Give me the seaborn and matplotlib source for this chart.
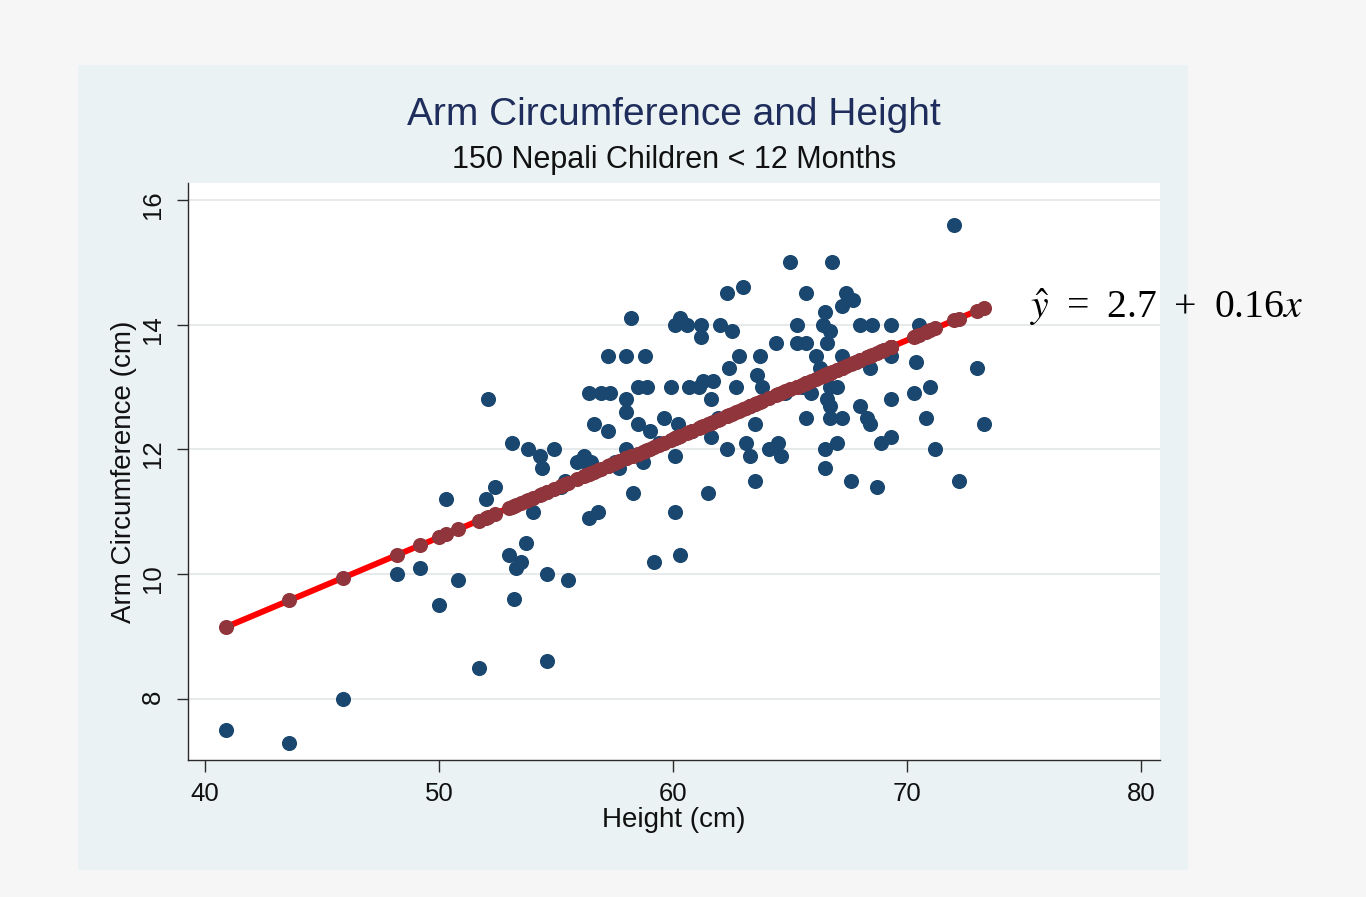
import matplotlib
matplotlib.use("Agg")
import matplotlib.pyplot as plt
from matplotlib.patches import Rectangle
import pandas as pd
import seaborn as sns

# Height (cm) and arm circumference (cm) of 150 Nepali children under 12 months
height_cm = [
    40.9, 43.6, 45.9, 48.2, 49.2, 50.0, 50.3, 50.8, 51.7, 52.0,
    52.1, 52.4, 53.0, 53.1, 53.2, 53.3, 53.5, 53.7, 53.8, 54.0,
    54.3, 54.4, 54.6, 54.6, 54.9, 55.2, 55.4, 55.5, 55.9, 56.2,
    56.3, 56.4, 56.4, 56.5, 56.6, 56.8, 56.9, 57.2, 57.2, 57.3,
    57.5, 57.7, 58.0, 58.0, 58.0, 58.0, 58.2, 58.3, 58.5, 58.5,
    58.7, 58.8, 58.9, 59.0, 59.2, 59.4, 59.6, 59.9, 60.1, 60.1,
    60.1, 60.2, 60.3, 60.3, 60.6, 60.7, 60.8, 61.1, 61.2, 61.2,
    61.3, 61.5, 61.6, 61.6, 61.7, 61.9, 62.0, 62.3, 62.3, 62.4,
    62.5, 62.7, 62.8, 63.0, 63.1, 63.3, 63.3, 63.5, 63.5, 63.6,
    63.7, 63.8, 64.1, 64.4, 64.5, 64.6, 64.8, 65.0, 65.3, 65.3,
    65.5, 65.7, 65.7, 65.7, 65.9, 66.1, 66.3, 66.4, 66.5, 66.5,
    66.5, 66.6, 66.6, 66.7, 66.7, 66.7, 66.7, 66.8, 67.0, 67.0,
    67.2, 67.2, 67.2, 67.4, 67.6, 67.7, 67.8, 68.0, 68.0, 68.3,
    68.4, 68.4, 68.5, 68.7, 68.9, 69.0, 69.3, 69.3, 69.3, 69.3,
    70.3, 70.4, 70.5, 70.8, 71.0, 71.2, 72.0, 72.2, 73.0, 73.3,
]
arm_cm = [
    7.5, 7.3, 8.0, 10.0, 10.1, 9.5, 11.2, 9.9, 8.5, 11.2,
    12.8, 11.4, 10.3, 12.1, 9.6, 10.1, 10.2, 10.5, 12.0, 11.0,
    11.9, 11.7, 10.0, 8.6, 12.0, 11.4, 11.5, 9.9, 11.8, 11.9,
    11.8, 12.9, 10.9, 11.8, 12.4, 11.0, 12.9, 13.5, 12.3, 12.9,
    11.8, 11.7, 13.5, 12.8, 12.6, 12.0, 14.1, 11.3, 13.0, 12.4,
    11.8, 13.5, 13.0, 12.3, 10.2, 12.1, 12.5, 13.0, 14.0, 11.9,
    11.0, 12.4, 14.1, 10.3, 14.0, 13.0, 12.3, 13.0, 14.0, 13.8,
    13.1, 11.3, 12.8, 12.2, 13.1, 12.5, 14.0, 14.5, 12.0, 13.3,
    13.9, 13.0, 13.5, 14.6, 12.1, 11.9, 12.7, 12.4, 11.5, 13.2,
    13.5, 13.0, 12.0, 13.7, 12.1, 11.9, 12.9, 15.0, 14.0, 13.7,
    13.0, 14.5, 13.7, 12.5, 12.9, 13.5, 13.3, 14.0, 14.2, 12.0,
    11.7, 13.7, 12.8, 13.9, 13.0, 12.7, 12.5, 15.0, 13.0, 12.1,
    14.3, 13.5, 12.5, 14.5, 11.5, 14.4, 13.4, 14.0, 12.7, 12.5,
    13.3, 12.4, 14.0, 11.4, 12.1, 13.6, 14.0, 13.5, 12.8, 12.2,
    12.9, 13.4, 14.0, 12.5, 13.0, 12.0, 15.6, 11.5, 13.3, 12.4,
]

# Least-squares fit coefficients
intercept = 2.69
slope = 0.158

title = "Arm Circumference and Height"
subtitle = "150 Nepali Children < 12 Months"
x_label = "Height (cm)"
y_label = "Arm Circumference (cm)"
x_ticks = [40, 50, 60, 70, 80]
y_ticks = [8, 10, 12, 14, 16]

df = pd.DataFrame({"height": height_cm, "arm": arm_cm})
df["fitted"] = intercept + slope * df["height"]

sns.set_theme(style="ticks")
plt.rcParams["font.family"] = ["Liberation Sans", "DejaVu Sans"]
plt.rcParams["mathtext.fontset"] = "stix"

W, H = 1366, 897
fig = plt.figure(figsize=(W / 100, H / 100), dpi=100, facecolor="#f6f6f6")

# bluish-gray graph region behind the plot
fig.add_artist(Rectangle((78 / W, 1 - 870 / H), 1110 / W, 805 / H,
                         transform=fig.transFigure, facecolor="#eaf2f3",
                         edgecolor="none", zorder=-1))

ax = fig.add_axes([188 / W, 1 - 760 / H, 972 / W, 577 / H])
ax.set_facecolor("white")

navy = "#1a476f"
maroon = "#90353b"

sns.scatterplot(data=df, x="height", y="arm", color=navy, s=118,
                linewidth=0, ax=ax, zorder=2)
sns.lineplot(data=df, x="height", y="fitted", color="#ff0000",
             linewidth=4.3, estimator=None, ax=ax, zorder=3)
sns.scatterplot(data=df, x="height", y="fitted", color=maroon, s=118,
                linewidth=0, ax=ax, zorder=4)

ax.set_xlim(39.27, 80.81)
ax.set_ylim(7.02, 16.27)
ax.set_xticks(x_ticks)
ax.set_yticks(y_ticks)
ax.yaxis.grid(True, color="#e6eaea", linewidth=1.4)
ax.set_axisbelow(True)

for side in ("top", "right"):
    ax.spines[side].set_visible(False)
for side in ("left", "bottom"):
    ax.spines[side].set_color("#2b2b2b")
    ax.spines[side].set_linewidth(1.0)

ax.tick_params(direction="out", width=1, color="#2b2b2b",
               labelsize=18.5, labelcolor="#111111")
ax.tick_params(axis="x", length=8.5, pad=7.5)
ax.tick_params(axis="y", length=8, pad=8.5, labelrotation=90)

ax.set_xlabel(x_label, fontsize=20, color="#111111")
ax.set_ylabel(y_label, fontsize=20, color="#111111")
ax.xaxis.set_label_coords(0.5, -0.081)
ax.yaxis.set_label_coords(-0.0525, 0.5)

fig.text(674 / W, 1 - 115 / H, title, ha="center", va="center",
         fontsize=28, color="#1f2d5c")
fig.text(674 / W, 1 - 160 / H, subtitle, ha="center", va="center",
         fontsize=22, color="#111111")

# fitted equation, with the coefficients rounded for display
gap = "\u2009 "
equation = (rf"$\hat{{y}}${gap}={gap}{intercept:.1f}{gap}+{gap}"
            rf"{slope:.2f}$x$")
fig.text(1030 / W, 1 - 318 / H, equation, ha="left", va="baseline",
         fontsize=28.5, color="black",
         family=["Liberation Serif", "DejaVu Serif"])

fig.savefig("out.png", dpi=100, facecolor=fig.get_facecolor())
